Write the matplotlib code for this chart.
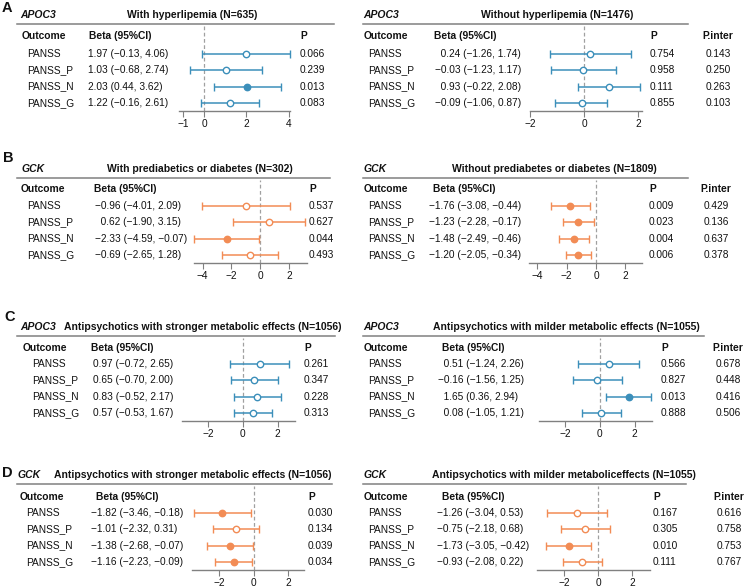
import matplotlib
matplotlib.use("Agg")
import matplotlib.pyplot as plt
from matplotlib.lines import Line2D

W, H = 748, 588
plt.rcParams["font.family"] = ["Liberation Sans", "DejaVu Sans"]
plt.rcParams["font.size"] = 7.3

outcomes = ["PANSS", "PANSS_P", "PANSS_N", "PANSS_G"]

# A: APOC3 x hyperlipemia
a_with_beta = [1.97, 1.03, 2.03, 1.22]
a_with_lo = [-0.13, -0.68, 0.44, -0.16]
a_with_hi = [4.06, 2.74, 3.62, 2.61]
a_with_p = [0.066, 0.239, 0.013, 0.083]
a_wo_beta = [0.24, -0.03, 0.93, -0.09]
a_wo_lo = [-1.26, -1.23, -0.22, -1.06]
a_wo_hi = [1.74, 1.17, 2.08, 0.87]
a_wo_p = [0.754, 0.958, 0.111, 0.855]
a_pinter = [0.143, 0.250, 0.263, 0.103]

# B: GCK x prediabetes / diabetes
b_with_beta = [-0.96, 0.62, -2.33, -0.69]
b_with_lo = [-4.01, -1.90, -4.59, -2.65]
b_with_hi = [2.09, 3.15, -0.07, 1.28]
b_with_p = [0.537, 0.627, 0.044, 0.493]
b_wo_beta = [-1.76, -1.23, -1.48, -1.20]
b_wo_lo = [-3.08, -2.28, -2.49, -2.05]
b_wo_hi = [-0.44, -0.17, -0.46, -0.34]
b_wo_p = [0.009, 0.023, 0.004, 0.006]
b_pinter = [0.429, 0.136, 0.637, 0.378]

# C: APOC3 x antipsychotic class
c_str_beta = [0.97, 0.65, 0.83, 0.57]
c_str_lo = [-0.72, -0.70, -0.52, -0.53]
c_str_hi = [2.65, 2.00, 2.17, 1.67]
c_str_p = [0.261, 0.347, 0.228, 0.313]
c_mild_beta = [0.51, -0.16, 1.65, 0.08]
c_mild_lo = [-1.24, -1.56, 0.36, -1.05]
c_mild_hi = [2.26, 1.25, 2.94, 1.21]
c_mild_p = [0.566, 0.827, 0.013, 0.888]
c_pinter = [0.678, 0.448, 0.416, 0.506]

# D: GCK x antipsychotic class
d_str_beta = [-1.82, -1.01, -1.38, -1.16]
d_str_lo = [-3.46, -2.32, -2.68, -2.23]
d_str_hi = [-0.18, 0.31, -0.07, -0.09]
d_str_p = [0.030, 0.134, 0.039, 0.034]
d_mild_beta = [-1.26, -0.75, -1.73, -0.93]
d_mild_lo = [-3.04, -2.18, -3.05, -2.08]
d_mild_hi = [0.53, 0.68, -0.42, 0.22]
d_mild_p = [0.167, 0.305, 0.010, 0.111]
d_pinter = [0.616, 0.758, 0.753, 0.767]

BLUE = "#3c8fba"
ORANGE = "#f28c55"
GREY = "#808080"
ROW_STEP = 16.3
HDR_SIZE = 7.4
TITLE_SIZE = 7.5

fig = plt.figure(figsize=(W / 100, H / 100), dpi=100)


def fx(x):
    return x / W


def fy(y):
    return 1 - y / H


def put(x, y, s, **kw):
    fig.text(fx(x), fy(y), s, va="center", color="#111111", **kw)


def fmt_ci(b, lo, hi, pad):
    s = f"{b:.2f} ({lo:.2f}, {hi:.2f})".replace("-", "\u2212")
    if pad and b >= 0:
        s = "\u2007" + s
    return s


def draw_panel(sec, lay, gene, title, beta, lo, hi, p, color, pint=None):
    title_y, head_y, row0 = sec
    rows = [row0 + i * ROW_STEP for i in range(len(beta))]
    line_y = title_y + 9
    axis_y = rows[-1] + 8.5

    put(lay["gene"], title_y, gene, fontweight="bold", fontstyle="italic", fontsize=TITLE_SIZE)
    put(lay["title"], title_y, title, fontweight="bold", ha="center", fontsize=TITLE_SIZE)
    fig.add_artist(Line2D([fx(lay["line"][0]), fx(lay["line"][1])], [fy(line_y)] * 2,
                          color=GREY, lw=1.1, transform=fig.transFigure))
    put(lay["outcome"], head_y, "Outcome", fontweight="bold", fontsize=HDR_SIZE)
    put(lay["beta_hdr"], head_y, "Beta (95%CI)", fontweight="bold", fontsize=HDR_SIZE)
    put(lay["p"], head_y, "P", fontweight="bold", fontsize=HDR_SIZE)
    if pint is not None:
        put(lay["pint"], head_y, "P.inter", fontweight="bold", ha="center", fontsize=HDR_SIZE)

    pad = any(b < 0 for b in beta)
    for i, y in enumerate(rows):
        put(lay["label"], y, outcomes[i])
        put(lay["beta"], y, fmt_ci(beta[i], lo[i], hi[i], pad))
        put(lay["p"], y, f"{p[i]:.3f}")
        if pint is not None:
            put(lay["pint"], y, f"{pint[i]:.3f}", ha="center")

    x0, x1 = lay["ax"]
    ax = fig.add_axes([fx(x0), fy(axis_y), (x1 - x0) / W, (axis_y - line_y - 2) / H])
    ax.patch.set_alpha(0)
    ax.set_xlim(*lay["xlim"])
    ax.set_ylim(axis_y, line_y + 2)
    ax.axvline(0, color="#a0a0a0", ls=(0, (3, 2)), lw=0.9, zorder=1)
    for i, y in enumerate(rows):
        filled = p[i] < 0.05
        eb = ax.errorbar(beta[i], y, xerr=[[beta[i] - lo[i]], [hi[i] - beta[i]]], fmt="o",
                         color=color, ms=4.6, mfc=color if filled else "white", mec=color,
                         mew=1.0, elinewidth=1.1, capsize=2.6, capthick=1.0, zorder=3)
        for art in eb.get_children():
            art.set_clip_on(False)
    for s in ("top", "left", "right"):
        ax.spines[s].set_visible(False)
    ax.spines["bottom"].set_color(GREY)
    ax.spines["bottom"].set_linewidth(1.0)
    ax.set_yticks([])
    ax.set_xticks(lay["ticks"])
    ax.tick_params(axis="x", colors=GREY, length=4, width=0.8, pad=1.5,
                   labelsize=7.3, labelcolor="#111111")
    return ax


SECTIONS = {
    "A": (15, 36, 54),
    "B": (169, 189, 206),
    "C": (327, 348, 364),
    "D": (475, 497, 513),
}

LAY = {
    "A_left": dict(gene=20, title=192, line=(17, 334), outcome=22, label=27, beta_hdr=89, beta=88,
                   p=300, ax=(179, 290), xlim=(-1.2, 4.07), ticks=[-1, 0, 2, 4]),
    "A_right": dict(gene=363, title=557, line=(363, 688), outcome=364, label=368, beta_hdr=434,
                    beta=435, p=650, pint=718, ax=(530, 642), xlim=(-2.0, 2.15), ticks=[-2, 0, 2]),
    "B_left": dict(gene=21, title=200, line=(17, 330), outcome=21, label=27, beta_hdr=94, beta=95,
                   p=309, ax=(194, 307), xlim=(-4.6, 3.27), ticks=[-4, -2, 0, 2]),
    "B_right": dict(gene=363, title=554, line=(363, 688), outcome=364, label=368, beta_hdr=433,
                    beta=429, p=649, pint=716, ax=(529, 642), xlim=(-4.56, 3.13), ticks=[-4, -2, 0, 2]),
    "C_left": dict(gene=20, title=203, line=(17, 335), outcome=23, label=32, beta_hdr=91, beta=93,
                   p=304, ax=(182, 295), xlim=(-3.5, 3.0), ticks=[-2, 0, 2]),
    "C_right": dict(gene=363, title=566, line=(363, 704), outcome=364, label=368, beta_hdr=442,
                    beta=438, p=661, pint=728, ax=(539, 652), xlim=(-3.5, 3.0), ticks=[-2, 0, 2]),
    "D_left": dict(gene=18, title=193, line=(17, 332), outcome=20, label=26, beta_hdr=96, beta=91,
                   p=308, ax=(192, 304), xlim=(-3.56, 2.9), ticks=[-2, 0, 2]),
    "D_right": dict(gene=363, title=564, line=(363, 686), outcome=364, label=368, beta_hdr=442,
                    beta=437, p=653, pint=729, ax=(537, 650), xlim=(-3.6, 3.05), ticks=[-2, 0, 2]),
}

draw_panel(SECTIONS["A"], LAY["A_left"], "APOC3", "With hyperlipemia (N=635)",
           a_with_beta, a_with_lo, a_with_hi, a_with_p, BLUE)
draw_panel(SECTIONS["A"], LAY["A_right"], "APOC3", "Without hyperlipemia (N=1476)",
           a_wo_beta, a_wo_lo, a_wo_hi, a_wo_p, BLUE, a_pinter)
draw_panel(SECTIONS["B"], LAY["B_left"], "GCK", "With prediabetics or diabetes (N=302)",
           b_with_beta, b_with_lo, b_with_hi, b_with_p, ORANGE)
draw_panel(SECTIONS["B"], LAY["B_right"], "GCK", "Without prediabetes or diabetes (N=1809)",
           b_wo_beta, b_wo_lo, b_wo_hi, b_wo_p, ORANGE, b_pinter)
draw_panel(SECTIONS["C"], LAY["C_left"], "APOC3", "Antipsychotics with stronger metabolic effects (N=1056)",
           c_str_beta, c_str_lo, c_str_hi, c_str_p, BLUE)
draw_panel(SECTIONS["C"], LAY["C_right"], "APOC3", "Antipsychotics with milder metabolic effects (N=1055)",
           c_mild_beta, c_mild_lo, c_mild_hi, c_mild_p, BLUE, c_pinter)
draw_panel(SECTIONS["D"], LAY["D_left"], "GCK", "Antipsychotics with stronger metabolic effects (N=1056)",
           d_str_beta, d_str_lo, d_str_hi, d_str_p, ORANGE)
draw_panel(SECTIONS["D"], LAY["D_right"], "GCK", "Antipsychotics with milder metaboliceffects (N=1055)",
           d_mild_beta, d_mild_lo, d_mild_hi, d_mild_p, ORANGE, d_pinter)

# panel letters
for letter, (x, y) in {"A": (2, 8), "B": (3, 158), "C": (4, 317), "D": (2, 473)}.items():
    put(x, y, letter, fontsize=10.5, fontweight="bold")

fig.savefig("out.png", dpi=100)
